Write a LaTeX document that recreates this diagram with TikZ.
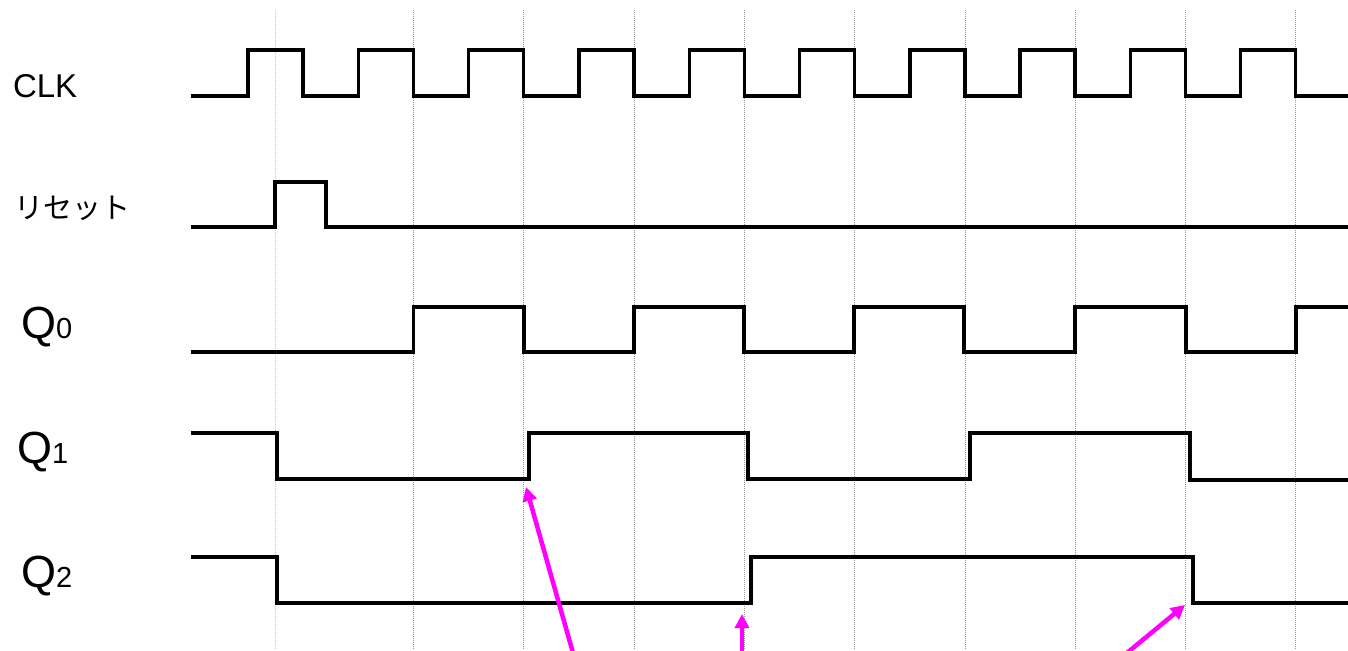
\documentclass[tikz,border=0pt]{standalone}
\usepackage{fontspec}
\setmainfont{Liberation Sans}
\newfontfamily\cjk{Noto Sans CJK JP}
\usetikzlibrary{arrows.meta}
\definecolor{magentaarrow}{RGB}{255,0,255}
\definecolor{pinkgrid}{RGB}{255,170,200}
\definecolor{graygrid}{RGB}{150,150,150}
\tikzset{
  x=1pt, y=-1pt,
  wave/.style={line width=3.4pt, line join=miter, line cap=rect},
  gridline/.style={graygrid, line width=1pt, dash pattern=on 1pt off 1pt},
  pinkline/.style={pinkgrid, line width=1pt, dash pattern=on 1pt off 1pt},
  pointer/.style={magentaarrow, line width=4.5pt, -{Triangle[length=14pt,width=14pt]}},
  lbl/.style={anchor=base west, inner sep=0pt, outer sep=0pt},
}
\newcommand{\qlabel}[1]{{\fontsize{45}{45}\selectfont Q}{\fontsize{29}{29}\selectfont #1}}
\begin{document}
\begin{tikzpicture}
\useasboundingbox (0,0) rectangle (1348,650);
\clip (0,0) rectangle (1348,650);
\fill[white] (0,0) rectangle (1348,650);
% grid lines
\draw[pinkline] (275,10) -- (275,650);
\foreach \k in {0,...,8} {
  \draw[gridline] ({413.5+110.3*\k},10) -- ({413.5+110.3*\k},650);
}
% labels
\node[lbl] (clk) at (13,98) {\fontsize{33}{33}\selectfont CLK};
\node[lbl] (rst) at (14,218) {\cjk\fontsize{29}{29}\selectfont リセット};
\node[lbl] (q0) at (21,338) {\qlabel{0}};
\node[lbl] (q1) at (17,463) {\qlabel{1}};
\node[lbl] (q2) at (21,587) {\qlabel{2}};
% CLK
\draw[wave] (193,96)
  \foreach \k in {0,...,9} {
    -- ({248+110.3*\k},96) -- ({248+110.3*\k},50) -- ({303+110.3*\k},50) -- ({303+110.3*\k},96)
  } -- (1352,96);
% reset
\draw[wave] (193,227) -- (275,227) -- (275,182) -- (326,182) -- (326,227) -- (1352,227);
% Q0
\draw[wave] (193,352) -- (413.5,352) -- (413.5,307) -- (524,307) -- (524,352)
  -- (634,352) -- (634,307) -- (744,307) -- (744,352)
  -- (854,352) -- (854,307) -- (964,307) -- (964,352)
  -- (1075,352) -- (1075,307) -- (1186,307) -- (1186,352)
  -- (1296,352) -- (1296,307) -- (1352,307);
% Q1
\draw[wave] (193,433) -- (277,433) -- (277,479) -- (529,479) -- (529,433)
  -- (748,433) -- (748,479) -- (970,479) -- (970,433) -- (1190,433) -- (1190,480) -- (1352,480);
% Q2
\draw[wave] (193,557) -- (277,557) -- (277,603) -- (751,603) -- (751,557)
  -- (1193,557) -- (1193,603) -- (1352,603);
% pointer arrows
\coordinate (t1) at (526,487);
\coordinate (s1) at (575,660);
\coordinate (t2) at (742,614);
\coordinate (s2) at (742,660);
\coordinate (t3) at (1185,605);
\coordinate (s3) at (1116,662);
\draw[pointer] (s1) -- (t1);
\draw[pointer] (s2) -- (t2);
\draw[pointer] (s3) -- (t3);
\end{tikzpicture}
\end{document}
